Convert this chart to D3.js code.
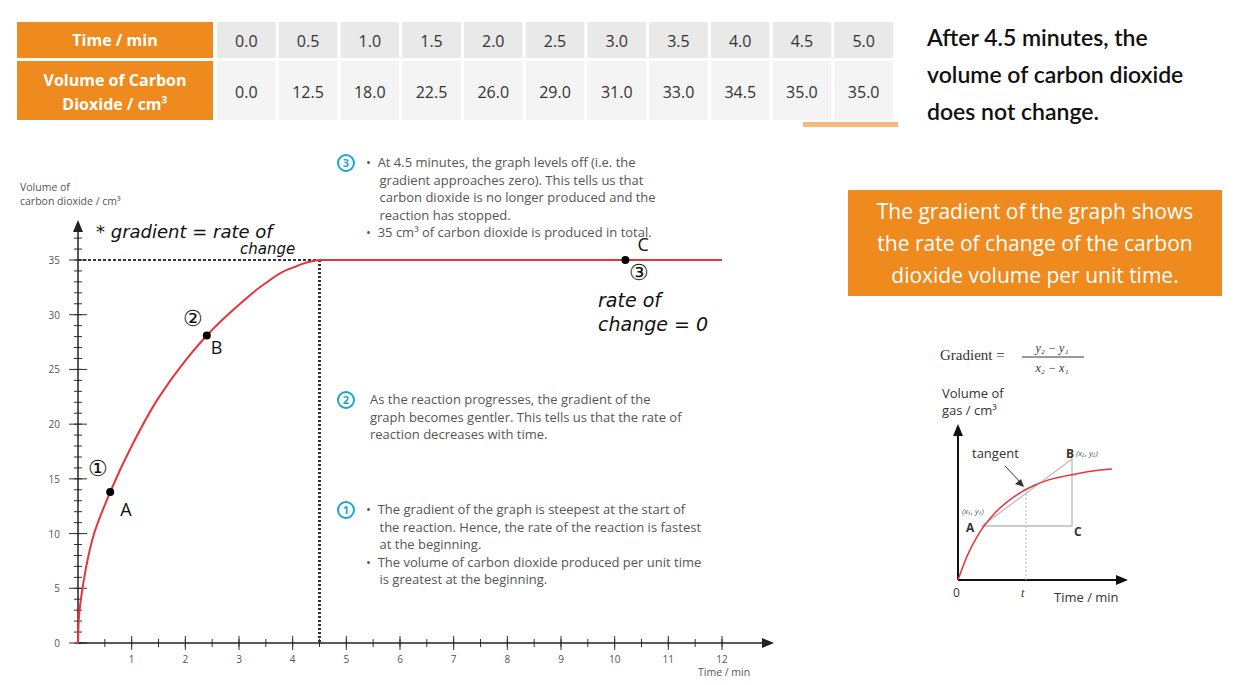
<!DOCTYPE html>
<html><head><meta charset="utf-8">
<script src="https://cdn.jsdelivr.net/npm/d3@7"></script>
<style>body{margin:0;background:#fff}svg{display:block}</style>
</head><body>
<script>
// table data
const times = [0.0, 0.5, 1.0, 1.5, 2.0, 2.5, 3.0, 3.5, 4.0, 4.5, 5.0]
const volumes = [0.0, 12.5, 18.0, 22.5, 26.0, 29.0, 31.0, 33.0, 34.5, 35.0, 35.0]
// graph curve
const curveT = [0, 0.02, 0.1, 0.3, 0.6, 1, 1.5, 2, 2.4, 3, 3.5, 4, 4.5, 6, 12]
const curveV = [0, 2.5, 5.5, 10, 13.8, 18, 22.4, 25.8, 28.1, 30.9, 32.9, 34.3, 35, 35, 35]
const xTicks = d3.range(1, 13)
const yTicks = d3.range(0, 40, 5)
// inset sketch curve
const insetT = [0, 0.5, 1, 2, 3, 4, 5, 6, 7, 8]
const insetV = [0, 1.9, 3.3, 5.2, 6.4, 7.2, 7.7, 8.0, 8.25, 8.4]

const orange = "#ee8a1e"
const svg = d3.select("body").append("svg").attr("width", 1248).attr("height", 685)
  .style("font-family", "'Open Sans', sans-serif")

//table
svg.append("rect").attr("x", 17).attr("y", 22).attr("width", 196).attr("height", 36).attr("fill", orange)
svg.append("rect").attr("x", 17).attr("y", 61).attr("width", 196).attr("height", 59).attr("fill", orange)
svg.append("text").attr("x", 115).attr("y", 46).attr("text-anchor", "middle").attr("fill", "#fff")
  .attr("font-weight", 700).attr("font-size", 16).text("Time / min")
svg.append("text").attr("x", 115).attr("y", 86).attr("text-anchor", "middle").attr("fill", "#fff")
  .attr("font-weight", 700).attr("font-size", 16).text("Volume of Carbon")
svg.append("text").attr("x", 115).attr("y", 110).attr("text-anchor", "middle").attr("fill", "#fff")
  .attr("font-weight", 700).attr("font-size", 16).text("Dioxide / cm³")
let col = d3.scaleBand().domain(d3.range(times.length)).range([217, 893]).paddingInner(0.05)
let cells = svg.selectAll(".cell").data(times).enter().append("g")
cells.append("rect").attr("x", (d, i) => col(i)).attr("y", 22).attr("width", col.bandwidth()).attr("height", 36).attr("fill", "#e9e9e9")
cells.append("rect").attr("x", (d, i) => col(i)).attr("y", 61).attr("width", col.bandwidth()).attr("height", 59).attr("fill", "#f4f4f4")
cells.append("text").attr("x", (d, i) => col(i) + col.bandwidth() / 2).attr("y", 47).attr("text-anchor", "middle")
  .attr("font-size", 16).attr("fill", "#333").text(d => d.toFixed(1))
cells.append("text").attr("x", (d, i) => col(i) + col.bandwidth() / 2).attr("y", 98).attr("text-anchor", "middle")
  .attr("font-size", 16).attr("fill", "#333").text((d, i) => volumes[i].toFixed(1))
svg.append("rect").attr("x", 803).attr("y", 122).attr("width", 95).attr("height", 5).attr("fill", "#f6b980")

//right text
let note = svg.append("text").attr("font-family", "Lato, sans-serif").attr("font-weight", 600).attr("font-size", 23).attr("fill", "#111")
;["After 4.5 minutes, the", "volume of carbon dioxide", "does not change."].forEach((t, i) =>
  note.append("tspan").attr("x", 927).attr("y", 46 + i * 37).text(t))

svg.append("rect").attr("x", 848).attr("y", 190).attr("width", 374).attr("height", 106).attr("fill", orange)
let box = svg.append("text").attr("font-size", 21).attr("fill", "#fff").attr("text-anchor", "middle")
;["The gradient of the graph shows", "the rate of change of the carbon", "dioxide volume per unit time."].forEach((t, i) =>
  box.append("tspan").attr("x", 1035).attr("y", 219 + i * 32).text(t))

//main graph
let x = d3.scaleLinear().domain([0, 12]).range([78, 722])
let y = d3.scaleLinear().domain([0, 35]).range([643, 260])
let g = svg.append("g").attr("fill", "#555").attr("font-size", 10)
// minor ticks
g.selectAll(".ym").data(d3.range(0, 37.5, 1)).enter().append("line")
  .attr("x1", x(0) - 4).attr("x2", x(0) + 4).attr("y1", d => y(d)).attr("y2", d => y(d)).attr("stroke", "#333")
g.selectAll(".xm").data(d3.range(0.5, 12.5, 0.5)).enter().append("line")
  .attr("y1", y(0) - 4).attr("y2", y(0) + 4).attr("x1", d => x(d)).attr("x2", d => x(d)).attr("stroke", "#333")
g.selectAll(".yM").data(yTicks).enter().append("line")
  .attr("x1", x(0) - 9).attr("x2", x(0) + 9).attr("y1", d => y(d)).attr("y2", d => y(d)).attr("stroke", "#333")
g.selectAll(".xM").data(xTicks).enter().append("line")
  .attr("y1", y(0) - 7).attr("y2", y(0) + 7).attr("x1", d => x(d)).attr("x2", d => x(d)).attr("stroke", "#333")
g.selectAll(".yl").data(yTicks).enter().append("text").attr("x", x(0) - 18).attr("y", d => y(d) + 4)
  .attr("text-anchor", "end").text(d => d)
g.selectAll(".xl").data(xTicks).enter().append("text").attr("y", y(0) + 20).attr("x", d => x(d))
  .attr("text-anchor", "middle").text(d => d)
svg.append("line").attr("x1", x(0)).attr("x2", x(0)).attr("y1", y(0)).attr("y2", 226).attr("stroke", "#222").attr("stroke-width", 1.5)
svg.append("line").attr("x1", x(0)).attr("x2", 766).attr("y1", y(0)).attr("y2", y(0)).attr("stroke", "#222").attr("stroke-width", 1.5)
svg.append("path").attr("d", `M${x(0) - 5},232L${x(0)},220L${x(0) + 5},232Z`).attr("fill", "#222")
svg.append("path").attr("d", `M762,${y(0) - 5}L774,${y(0)}L762,${y(0) + 5}Z`).attr("fill", "#222")
svg.append("text").attr("x", 20).attr("y", 191).attr("font-size", 10.5).attr("fill", "#555").text("Volume of")
svg.append("text").attr("x", 20).attr("y", 205).attr("font-size", 10.5).attr("fill", "#555").text("carbon dioxide / cm³")
svg.append("text").attr("x", 698).attr("y", 676).attr("font-size", 10.5).attr("fill", "#555").text("Time / min")

// dashed guides
svg.append("line").attr("x1", x(0)).attr("x2", x(4.5)).attr("y1", y(35)).attr("y2", y(35))
  .attr("stroke", "#333").attr("stroke-width", 2).attr("stroke-dasharray", "3,2")
svg.append("line").attr("x1", x(4.5)).attr("x2", x(4.5)).attr("y1", y(35)).attr("y2", y(0))
  .attr("stroke", "#333").attr("stroke-width", 3).attr("stroke-dasharray", "2,2")

svg.append("path").datum(curveT.map((t, i) => [t, curveV[i]]))
  .attr("d", d3.line().x(d => x(d[0])).y(d => y(d[1])).curve(d3.curveMonotoneY))
  .attr("fill", "none").attr("stroke", "#e8333a").attr("stroke-width", 2)

// points A, B, C
const pts = [[0.6, 13.8, "A", 10, 24, "①", -12, -16], [2.4, 28.1, "B", 4, 18, "②", -14, -10], [10.2, 35, "C", 12, -9, "③", 14, 20]]
pts.forEach(p => {
  svg.append("circle").attr("cx", x(p[0])).attr("cy", y(p[1])).attr("r", 4).attr("fill", "#000")
  svg.append("text").attr("x", x(p[0]) + p[3]).attr("y", y(p[1]) + p[4]).attr("font-size", 18).attr("fill", "#111").text(p[2])
  svg.append("text").attr("x", x(p[0]) + p[6]).attr("y", y(p[1]) + p[7]).attr("text-anchor", "middle").attr("font-size", 22).attr("fill", "#111").text(p[5])
})
let hw = svg.append("g").attr("font-family", "'DejaVu Sans', sans-serif").attr("font-style", "italic").attr("fill", "#111")
hw.append("text").attr("x", 96).attr("y", 238).attr("font-size", 18).text("* gradient = rate of")
hw.append("text").attr("x", 240).attr("y", 254).attr("font-size", 15).text("change")
hw.append("text").attr("x", 598).attr("y", 307).attr("font-size", 19).text("rate of")
hw.append("text").attr("x", 598).attr("y", 331).attr("font-size", 19).text("change = 0")

// explanation texts
const teal = "#1da5c8"
const blocks = [
  [167, ["•  At 4.5 minutes, the graph levels off (i.e. the", "    gradient approaches zero). This tells us that", "    carbon dioxide is no longer produced and the", "    reaction has stopped.", "•  35 cm³ of carbon dioxide is produced in total."], "3"],
  [404, ["As the reaction progresses, the gradient of the", "graph becomes gentler. This tells us that the rate of", "reaction decreases with time."], "2"],
  [514, ["•  The gradient of the graph is steepest at the start of", "    the reaction. Hence, the rate of the reaction is fastest", "    at the beginning.", "•  The volume of carbon dioxide produced per unit time", "    is greatest at the beginning."], "1"]
]
blocks.forEach(b => {
  svg.append("circle").attr("cx", 346).attr("cy", b[0] - 4).attr("r", 8).attr("fill", "none").attr("stroke", teal).attr("stroke-width", 2)
  svg.append("text").attr("x", 346).attr("y", b[0]).attr("text-anchor", "middle").attr("font-size", 11).attr("font-weight", 700).attr("fill", teal).text(b[2])
  let t = svg.append("text").attr("font-size", 13).attr("fill", "#555")
  b[1].forEach((s, i) => t.append("tspan").attr("x", b[2] == "2" ? 370 : 366).attr("y", b[0] + i * 17.5).style("white-space", "pre").text(s))
})

// inset
let ix = d3.scaleLinear().domain([0, 8]).range([958, 1112])
let iy = d3.scaleLinear().domain([0, 10]).range([580, 448])
svg.append("text").attr("x", 940).attr("y", 360).attr("font-family", "'Liberation Serif', serif").attr("font-size", 15).attr("fill", "#333").text("Gradient =")
svg.append("text").attr("x", 1052).attr("y", 352).attr("text-anchor", "middle").attr("font-family", "'Liberation Serif', serif").attr("font-style", "italic").attr("font-size", 12).attr("fill", "#333").text("y₂ − y₁")
svg.append("line").attr("x1", 1022).attr("x2", 1084).attr("y1", 357).attr("y2", 357).attr("stroke", "#333")
svg.append("text").attr("x", 1052).attr("y", 372).attr("text-anchor", "middle").attr("font-family", "'Liberation Serif', serif").attr("font-style", "italic").attr("font-size", 12).attr("fill", "#333").text("x₂ − x₁")
svg.append("text").attr("x", 942).attr("y", 398).attr("font-size", 13).attr("fill", "#333").text("Volume of")
svg.append("text").attr("x", 942).attr("y", 415).attr("font-size", 13).attr("fill", "#333").text("gas / cm³")
svg.append("line").attr("x1", 958).attr("x2", 958).attr("y1", 580).attr("y2", 432).attr("stroke", "#111").attr("stroke-width", 2)
svg.append("line").attr("x1", 958).attr("x2", 1120).attr("y1", 580).attr("y2", 580).attr("stroke", "#111").attr("stroke-width", 2)
svg.append("path").attr("d", "M953,436L958,424L963,436Z").attr("fill", "#111")
svg.append("path").attr("d", "M1116,575L1128,580L1116,585Z").attr("fill", "#111")
svg.append("line").attr("x1", 1026).attr("x2", 1026).attr("y1", 490).attr("y2", 580).attr("stroke", "#bbb").attr("stroke-dasharray", "2,2")
svg.append("path").attr("d", "M982,526L1072,459L1072,526Z").attr("fill", "none").attr("stroke", "#bbb").attr("stroke-width", 1.3)
svg.append("path").datum(insetT.map((t, i) => [t, insetV[i]]))
  .attr("d", d3.line().x(d => ix(d[0])).y(d => iy(d[1])).curve(d3.curveMonotoneX))
  .attr("fill", "none").attr("stroke", "#e8333a").attr("stroke-width", 1.5)
svg.append("line").attr("x1", 1005).attr("x2", 1022).attr("y1", 466).attr("y2", 484).attr("stroke", "#333")
svg.append("path").attr("d", "M1024,487L1015,484L1021,479Z").attr("fill", "#333")
svg.append("text").attr("x", 972).attr("y", 458).attr("font-size", 13).attr("fill", "#333").text("tangent")
svg.append("text").attr("x", 1066).attr("y", 458).attr("font-size", 12).attr("font-weight", 700).attr("fill", "#333").text("B")
svg.append("text").attr("x", 1076).attr("y", 456).attr("font-size", 8).attr("font-style", "italic").attr("fill", "#555").text("(x₂, y₂)")
svg.append("text").attr("x", 962).attr("y", 514).attr("font-size", 8).attr("font-style", "italic").attr("fill", "#555").text("(x₁, y₁)")
svg.append("text").attr("x", 966).attr("y", 532).attr("font-size", 12).attr("font-weight", 700).attr("fill", "#333").text("A")
svg.append("text").attr("x", 1074).attr("y", 536).attr("font-size", 12).attr("font-weight", 700).attr("fill", "#333").text("C")
svg.append("text").attr("x", 953).attr("y", 597).attr("font-size", 12).attr("fill", "#333").text("0")
svg.append("text").attr("x", 1021).attr("y", 597).attr("font-size", 12).attr("font-style", "italic").attr("font-family", "'Liberation Serif', serif").attr("fill", "#333").text("t")
svg.append("text").attr("x", 1054).attr("y", 602).attr("font-size", 13).attr("fill", "#333").text("Time / min")
</script>
</body></html>
